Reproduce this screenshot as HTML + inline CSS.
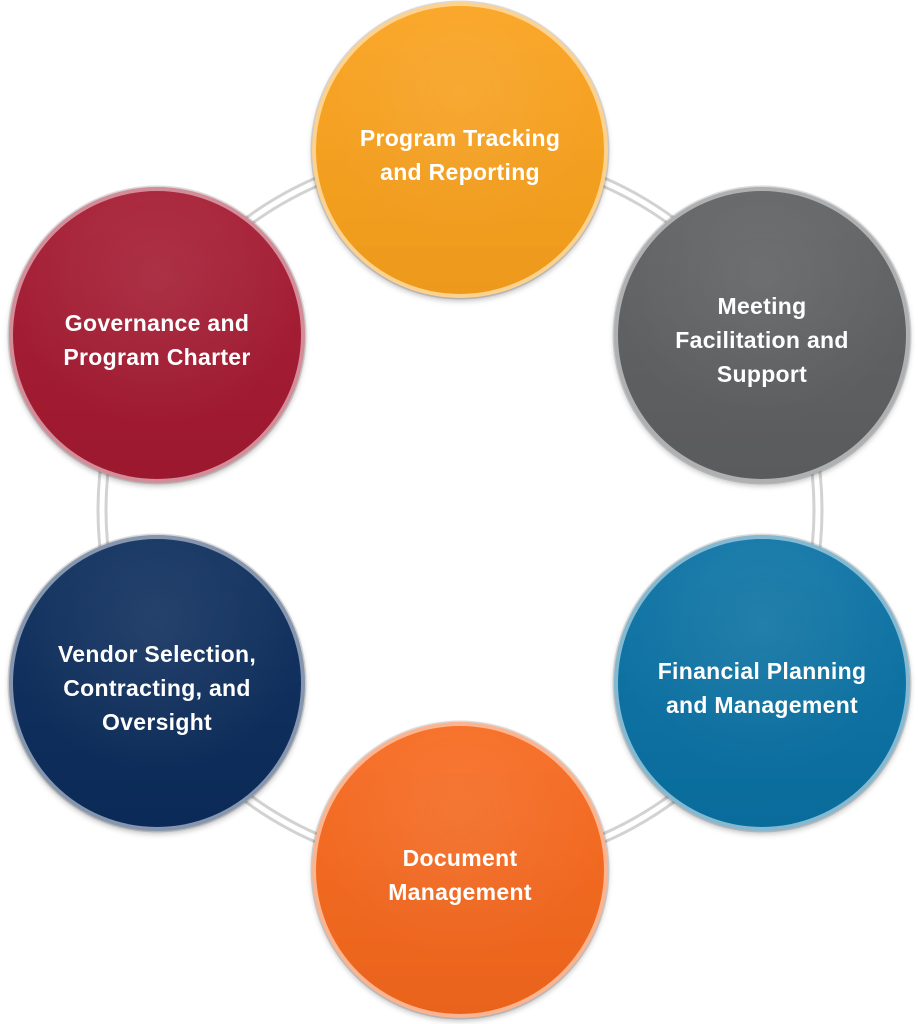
<!DOCTYPE html>
<html><head><style>
html,body{margin:0;padding:0;background:#fff;}
body{width:918px;height:1024px;position:relative;overflow:hidden;font-family:"Liberation Sans",sans-serif;}
.c{position:absolute;width:288px;height:288px;border-radius:50%;border:4px solid rgba(255,255,255,0.5);box-shadow:0 0 0 1.5px rgba(0,0,0,0.12),0 3px 6px rgba(0,0,0,0.25);display:flex;align-items:center;justify-content:center;text-align:center;color:#fff;font-weight:bold;font-size:23px;letter-spacing:0.3px;line-height:34px;box-sizing:content-box;overflow:hidden;}
.c::before{content:"";position:absolute;left:0;top:0;right:0;bottom:0;border-radius:50%;background:radial-gradient(circle at 50% 30%,rgba(255,255,255,0.08),rgba(255,255,255,0) 60%),linear-gradient(180deg,rgba(255,255,255,0.04),rgba(0,0,0,0.05));}
.c span{position:relative;padding-top:10px;}
</style></head><body>
<svg width="918" height="1024" style="position:absolute;left:0;top:0">
<circle cx="460" cy="510" r="362" fill="none" stroke="#d2d2d2" stroke-width="3"/>
<circle cx="460" cy="510" r="354" fill="none" stroke="#d2d2d2" stroke-width="3"/>
</svg>
<div class="c" style="left:312px;top:2px;background:#faa21d;"><span>Program Tracking<br>and Reporting</span></div>
<div class="c" style="left:614px;top:187px;background:#5f6062;"><span>Meeting<br>Facilitation and<br>Support</span></div>
<div class="c" style="left:614px;top:535px;background:#0a72a4;"><span>Financial Planning<br>and Management</span></div>
<div class="c" style="left:312px;top:722px;background:#f7691e;"><span>Document<br>Management</span></div>
<div class="c" style="left:9px;top:535px;background:#0c2d5c;"><span>Vendor Selection,<br>Contracting, and<br>Oversight</span></div>
<div class="c" style="left:9px;top:187px;background:#a51a31;"><span>Governance and<br>Program Charter</span></div>
</body></html>
